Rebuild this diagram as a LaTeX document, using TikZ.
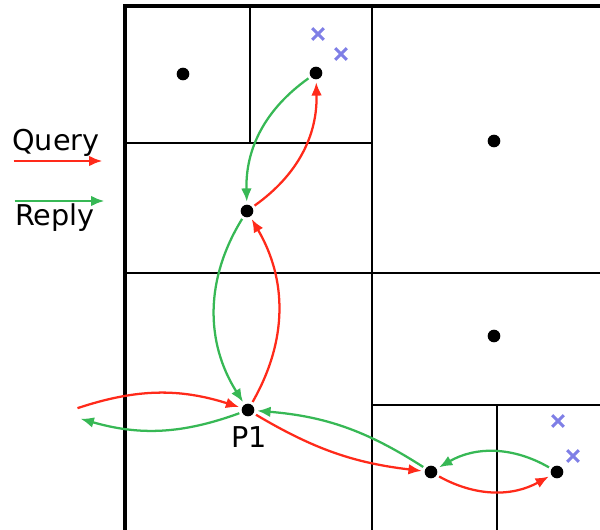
\documentclass[tikz,border=0pt]{standalone}
\usepackage{fontspec}
\setmainfont{DejaVu Sans}
\usetikzlibrary{arrows.meta,shapes.misc}
\definecolor{qred}{HTML}{FF2A1A}
\definecolor{rgreen}{HTML}{37B855}
\definecolor{xblue}{HTML}{7F7FE6}
\begin{document}
\begin{tikzpicture}[x=0.75pt,y=-0.75pt,
 dot/.style={circle,fill=black,inner sep=0pt,minimum size=9.5pt},
 xmark/.style={cross out,draw=xblue,line width=2.2pt,inner sep=0pt,minimum size=6.5pt},
 cell/.style={line width=1.6pt},
 query/.style={-{Latex[length=10pt,width=8pt]},qred,line width=1.7pt,shorten <=2pt,shorten >=2pt},
 reply/.style={-{Latex[length=10pt,width=8pt]},rgreen,line width=1.7pt,shorten <=2pt,shorten >=2pt},
 lbl/.style={font=\fontsize{21.5}{25}\selectfont,inner sep=0pt}
]
\useasboundingbox (0,0) rectangle (600,530);
% cells
\draw[cell,line width=2.3pt] (600,6) -- (125,6) -- (125,530);
\draw[cell] (372,6) -- (372,530);
\draw[cell] (250,6) -- (250,143);
\draw[cell] (125,143) -- (372,143);
\draw[cell] (125,273) -- (600,273);
\draw[cell] (372,405) -- (600,405);
\draw[cell] (497,405) -- (497,530);
% points
\node[dot] (tl) at (183,74) {};
\node[dot] (tr) at (316,73) {};
\node[dot] (ne) at (494,141) {};
\node[dot] (mid) at (247,211) {};
\node[dot] (se) at (494,336) {};
\node[dot] (p1) at (248,410) {};
\node[dot] (bl) at (431,472) {};
\node[dot] (br) at (557,472) {};
\node[lbl,anchor=base] (p1name) at (249,448) {P1};
\node[xmark] (x1) at (318,34) {};
\node[xmark] (x2) at (341,54) {};
\node[xmark] (x3) at (558,421) {};
\node[xmark] (x4) at (573,456) {};
\coordinate (wq) at (75,409);
\coordinate (wr) at (78,418);
% query / reply
\draw[query] (p1) to[bend right=30] (mid);
\draw[query] (mid) to[bend right=28] (tr);
\draw[query] (p1) to[bend right=12] (bl);
\draw[query] (bl) to[bend right=29] (br);
\draw[query] (wq) to[bend left=18] (p1);
\draw[reply] (tr) to[bend right=28] (mid);
\draw[reply] (mid) to[bend right=32] (p1);
\draw[reply] (bl) to[bend right=14] (p1);
\draw[reply] (br) to[bend right=30] (bl);
\draw[reply] (p1) to[bend left=18] (wr);
% legend
\node[lbl,anchor=base west] (qname) at (12,151) {Query};
\node[lbl,anchor=base west] (rname) at (15,226) {Reply};
\coordinate (qa) at (11,161);
\coordinate (qb) at (105,161);
\coordinate (ra) at (12,201);
\coordinate (rb) at (107,201);
\draw[query] (qa) -- (qb);
\draw[reply] (ra) -- (rb);
\end{tikzpicture}
\end{document}
